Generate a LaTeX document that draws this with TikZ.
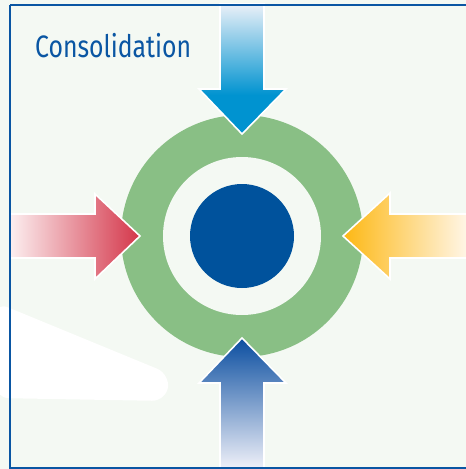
\documentclass[tikz,border=0pt]{standalone}
\usepackage{fontspec}
\newfontfamily\titlefont{Fira Sans}
\usepackage{tikz}
\definecolor{paper}{HTML}{F4F9F3}
\definecolor{ring}{HTML}{89BF85}
\definecolor{core}{HTML}{00529C}
\definecolor{frame}{HTML}{0A56A3}
\definecolor{redtip}{HTML}{D4364A}
\definecolor{redend}{HTML}{FCEFF0}
\definecolor{orangetip}{HTML}{FDB813}
\definecolor{orangeend}{HTML}{FFF7EC}
\definecolor{cyantip}{HTML}{0093D0}
\definecolor{cyanend}{HTML}{EAF0F8}
\definecolor{navytip}{HTML}{0B4EA0}
\definecolor{navyend}{HTML}{F0F1F9}
\pgfdeclareverticalshading{cyanfade}{100bp}{color(0bp)=(cyantip); color(25bp)=(cyantip);
  color(40bp)=(cyantip); color(75bp)=(cyanend); color(100bp)=(cyanend)}
\tikzset{
  arrowshape/.style={draw=white, line width=1.6pt, line join=miter},
}
\begin{document}
\begin{tikzpicture}[x=1pt, y=-1pt]
  \useasboundingbox (0,0) rectangle (466,469);
  \fill[paper] (0,0) rectangle (466,469);
  \fill[white, rounded corners=14] (-5,302) -- (170,374) -- (166,401) -- (-5,398) -- cycle;
  \fill[ring] (242,236) circle (121);
  \fill[paper] (242,236) circle (79);
  \fill[core] (242,236) circle (52);
  \draw[arrowshape, shading=cyanfade]
    (220,4) -- (220,89) -- (199,89) -- (242,134) -- (286,89) -- (264,89) -- (264,4) -- cycle;
  \draw[arrowshape, top color=navytip, bottom color=navyend]
    (220,469) -- (220,383) -- (199,383) -- (242,338) -- (286,383) -- (264,383) -- (264,469) -- cycle;
  \draw[arrowshape, left color=redend, right color=redtip]
    (10,214) -- (95,214) -- (95,194) -- (140,236) -- (95,279) -- (95,258) -- (10,258) -- cycle;
  \draw[arrowshape, left color=orangetip, right color=orangeend]
    (470,214) -- (390,214) -- (390,193) -- (343,236) -- (390,279) -- (390,258) -- (470,258) -- cycle;
  \draw[frame, line width=2pt] (10.2,4.5) -- (480,4.5) (10.2,4.5) -- (10.2,468) -- (480,468);
  \node[anchor=base west, inner sep=0pt, text=frame, xscale=0.8,
    font=\titlefont\fontsize{31}{31}\selectfont] (title) at (35,57.5) {Consolidation};
\end{tikzpicture}
\end{document}
